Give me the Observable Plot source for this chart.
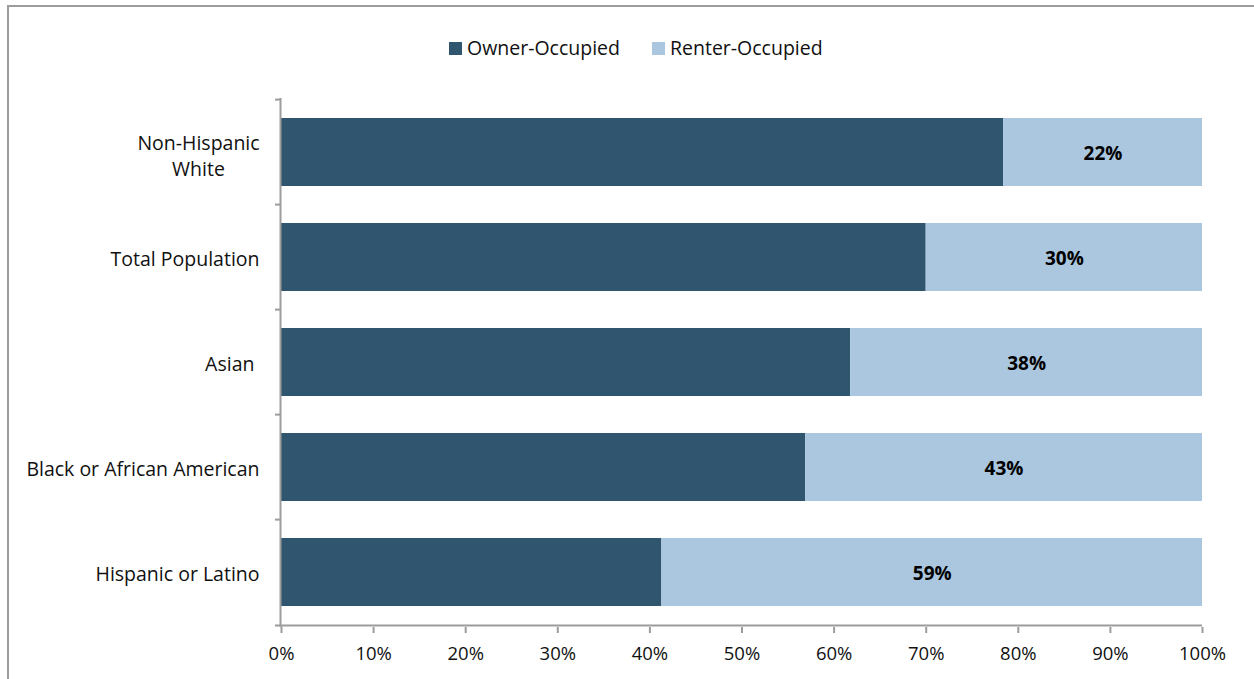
<!DOCTYPE html>
<html>
<head>
<meta charset="utf-8">
<script src="https://cdn.jsdelivr.net/npm/d3@7"></script>
<script src="https://cdn.jsdelivr.net/npm/@observablehq/plot@0.6"></script>
<style>
  html, body { margin: 0; padding: 0; background: #fff; overflow: hidden; width: 1254px; height: 679px; }
  body { font-family: "Open Sans", sans-serif; position: relative; }
  #border { position: absolute; left: 7px; top: 5px; width: 1400px; height: 800px; border: 2px solid #9c9c9c; box-sizing: border-box; pointer-events: none; z-index: 5; }
  #legend { height: 80px; position: relative; font-size: 19.5px; color: #111; }
  .item { position: absolute; top: 35px; display: flex; align-items: center; line-height: 26px; }
  .sw { width: 13px; height: 13px; margin-right: 5px; display: inline-block; }
  #chart { position: relative; }
</style>
</head>
<body>
<div id="border"></div>
<div id="legend"></div>
<div id="chart"></div>
<script>
const categories = ["Non-Hispanic White", "Total Population", "Asian", "Black or African American", "Hispanic or Latino"];
const categoryLabels = ["Non-Hispanic\nWhite", "Total Population", "Asian\u00a0", "Black or African American", "Hispanic or Latino"];
const seriesNames = ["Owner-Occupied", "Renter-Occupied"];
const seriesColors = ["#2f566e", "#abc7df"];
const ownerValues = [78.4, 70.0, 61.8, 56.9, 41.3];
const renterValues = [21.6, 30.0, 38.2, 43.1, 58.7];
const xTicks = [0, 10, 20, 30, 40, 50, 60, 70, 80, 90, 100];

const data = [];
categories.forEach((c, i) => {
  data.push({cat: c, type: seriesNames[0], value: ownerValues[i]});
  data.push({cat: c, type: seriesNames[1], value: renterValues[i]});
});
const labelOf = new Map(categories.map((c, i) => [c, categoryLabels[i]]));

// legend
const legend = document.getElementById("legend");
const legendLeft = [449, 652];
seriesNames.forEach((s, i) => {
  const it = document.createElement("div");
  it.className = "item";
  it.style.left = legendLeft[i] + "px";
  it.innerHTML = `<span class="sw" style="background:${seriesColors[i]}"></span><span>${s}</span>`;
  legend.appendChild(it);
});

const W = 1254, H = 599, mt = 18, mb = 52;
const step = (H - mt - mb) / categories.length;
const singleLine = categories.filter(c => !labelOf.get(c).includes("\n"));
const multiLine = categories.filter(c => labelOf.get(c).includes("\n"));
const font = "'Open Sans', sans-serif";

const chart = Plot.plot({
  width: W,
  height: H,
  marginLeft: 281,
  marginRight: 52,
  marginTop: mt,
  marginBottom: mb,
  style: {fontFamily: font, fontSize: "18px", color: "#111", background: "white"},
  x: {domain: [0, 100], label: null},
  y: {domain: categories, paddingInner: 0.35, paddingOuter: 0.175, axis: null},
  color: {domain: seriesNames, range: seriesColors},
  marks: [
    Plot.barX(data, Plot.stackX({x: "value", y: "cat", fill: "type", order: null})),
    Plot.text(data, Plot.stackX({
      x: "value", y: "cat", z: "type", order: null,
      text: d => d.type === seriesNames[1] ? Math.round(d.value) + "%" : null,
      fontWeight: "bold", fontSize: 19, fill: "#000", dy: 1
    })),
    // y axis line
    Plot.ruleX([0], {stroke: "#9c9c9c", strokeWidth: 2, dx: -1}),
    // category boundary ticks
    Plot.ruleY(categories, {y: d => d, dy: -step / 2, x1: 0, x2: 0, insetLeft: -6, stroke: "#9c9c9c", strokeWidth: 2}),
    // x axis line
    Plot.ruleY([categories[categories.length - 1]], {y: d => d, dy: step / 2, x1: 0, x2: 100, insetLeft: -6, stroke: "#9c9c9c", strokeWidth: 2}),
    Plot.axisX({ticks: xTicks, tickFormat: d => d + "%", label: null, tickSize: 6, tickPadding: 13, stroke: "#9c9c9c", fill: "#111", strokeWidth: 2, fontSize: 18.5}),
    // category labels
    Plot.text(singleLine, {y: d => d, text: d => labelOf.get(d), frameAnchor: "left", dx: -22, dy: 2, textAnchor: "end", fill: "#111", fontSize: 19.5}),
    Plot.text(multiLine, {y: d => d, text: d => labelOf.get(d), frameAnchor: "left", dx: -83, dy: 2, textAnchor: "middle", lineHeight: 1.35, fill: "#111", fontSize: 19.5})
  ]
});
document.getElementById("chart").appendChild(chart);
</script>
</body>
</html>
